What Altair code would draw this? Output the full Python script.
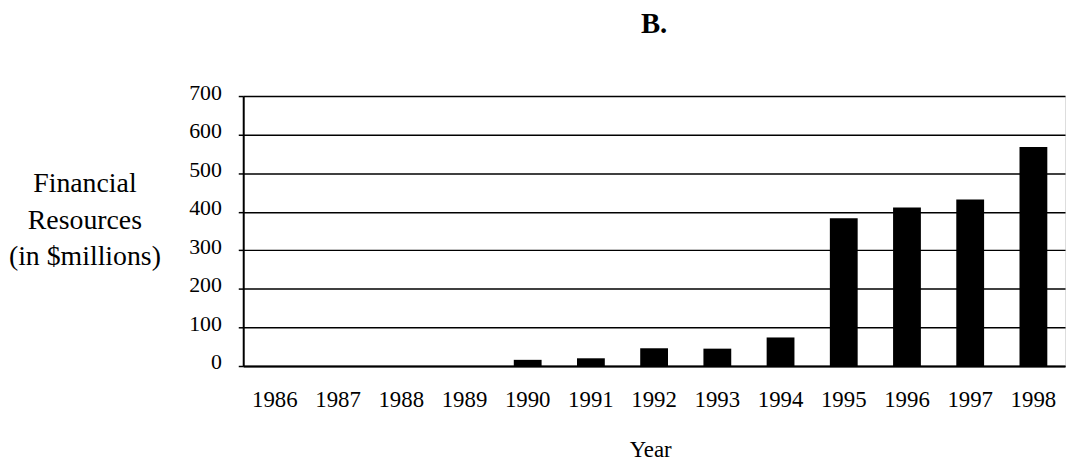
import altair as alt
import pandas as pd

years = ["1986", "1987", "1988", "1989", "1990", "1991", "1992",
         "1993", "1994", "1995", "1996", "1997", "1998"]
values = [0, 0, 0, 0, 16, 20, 46, 45, 74, 383, 411, 432, 568]
y_ticks = [0, 100, 200, 300, 400, 500, 600, 700]

df = pd.DataFrame({"Year": years, "Value": values})

FONT = "Liberation Serif"

chart = alt.Chart(df).mark_bar(color="black").encode(
    x=alt.X("Year:N", sort=years,
            scale=alt.Scale(paddingInner=0.56, paddingOuter=0.28),
            axis=alt.Axis(title="Year", labelAngle=0, ticks=False, tickSize=0,
                          labelPadding=23, labelFontSize=23, labelFont=FONT,
                          labelColor="black", domainColor="black", domainWidth=2,
                          titleFont=FONT, titleFontSize=23, titleFontWeight="normal",
                          titleColor="black", titleBaseline="alphabetic",
                          titleY=91, titleX=410)),
    y=alt.Y("Value:Q", scale=alt.Scale(domain=[0, 700], nice=False),
            axis=alt.Axis(values=y_ticks, title=["Financial", "Resources", "(in $millions)"],
                          grid=True, gridColor="black", gridWidth=1.5,
                          tickColor="black", tickSize=5, tickWidth=1.5,
                          labelPadding=17, labelFontSize=22, labelFont=FONT,
                          labelColor="black", labelBaseline="middle", labelOffset=-4,
                          domainColor="black", domainWidth=2,
                          titleFont=FONT, titleFontSize=28, titleFontWeight="normal",
                          titleColor="black", titleAngle=0, titleAlign="center",
                          titleBaseline="middle", titleLineHeight=37,
                          titleX=-160, titleY=88)),
).properties(
    width=828,
    height=272,
    title=alt.TitleParams("B.", font=FONT, fontSize=29, fontWeight="bold",
                          color="black", anchor="middle", baseline="alphabetic",
                          offset=20),
    autosize=alt.AutoSizeParams(type="none"),
    padding={"left": 237, "top": 87, "right": 2, "bottom": 94},
).configure_view(stroke="#555555", strokeWidth=1).configure(background="white")

chart.save("out.html", embed_options={"renderer": "svg", "actions": False})
